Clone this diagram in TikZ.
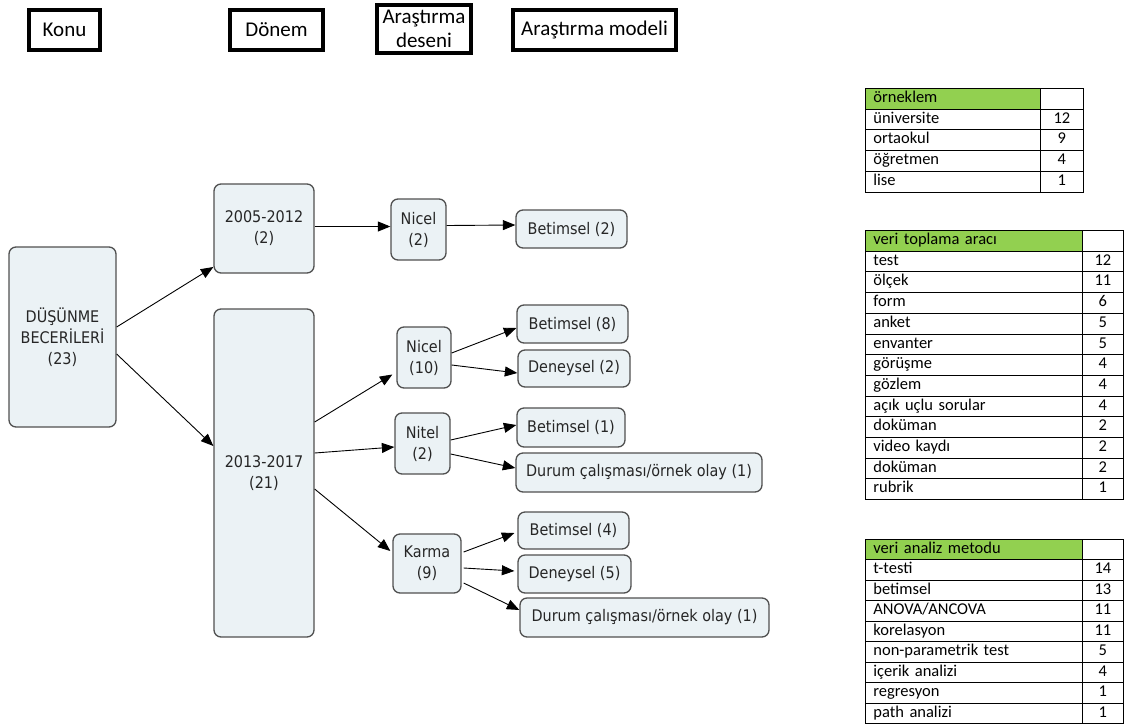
\documentclass[tikz,border=0pt]{standalone}
\usepackage{fontspec}
\setmainfont{Carlito}
\newfontfamily\boxfont[FakeStretch=0.9]{DejaVu Sans}
\usepackage{tikz}
\usetikzlibrary{arrows.meta, calc, positioning}
\definecolor{boxfill}{HTML}{EBF2F5}
\definecolor{boxline}{HTML}{505050}
\definecolor{boxtext}{HTML}{262626}
\definecolor{headgreen}{HTML}{92D050}
\tikzset{
  head/.style={draw, line width=3.5pt, minimum height=40pt, inner sep=0pt, align=center, font=\fontsize{21}{24}\selectfont},
  stage/.style={draw=boxline, fill=boxfill, rounded corners=7pt, line width=1.3pt, inner sep=0pt, align=center, text=boxtext, font=\boxfont\fontsize{16}{21}\selectfont},
  link/.style={-{Triangle[length=12.5pt,width=10pt]}, line width=0.9pt},
  lcell/.style={draw, line width=0.8pt, anchor=north west, minimum height=20.7pt, inner xsep=8pt, inner ysep=0pt, text height=11pt, text depth=3.5pt, align=left, font=\fontsize{16.5}{18}\selectfont},
  vcell/.style={draw, line width=0.8pt, anchor=north west, minimum height=20.7pt, inner sep=0pt, text height=11pt, text depth=3.5pt, align=center, font=\fontsize{16.5}{18}\selectfont}
}
\begin{document}
\begin{tikzpicture}[x=1pt, y=-1pt]
\useasboundingbox (0,0) rectangle (1129,726);

\node[head, minimum width=71pt] (konu) at (64.5,30) {Konu};
\node[head, minimum width=93pt] (donem) at (276.5,30) {Dönem};
\node[head, minimum width=94pt, minimum height=48pt] (desen) at (424,29) {Araştırma\\deseni};
\node[head, minimum width=163pt] (model) at (594.5,30) {Araştırma modeli};

\node[stage, minimum width=107pt, minimum height=180pt] (topic) at (62.5,337) {DÜŞÜNME\\BECERİLERİ\\(23)};
\node[stage, minimum width=100pt, minimum height=89pt] (pa) at (264,228.5) {2005-2012\\(2)};
\node[stage, minimum width=100pt, minimum height=328pt] (pb) at (264,473) {2013-2017\\(21)};
\node[stage, minimum width=55pt, minimum height=61pt] (quanA) at (418.5,229.5) {Nicel\\(2)};
\node[stage, minimum width=111pt, minimum height=38pt] (descA) at (571.5,229) {Betimsel (2)};
\node[stage, minimum width=54pt, minimum height=61pt] (quanB) at (424,357.5) {Nicel\\(10)};
\node[stage, minimum width=111pt, minimum height=38pt] (descB) at (572.5,324) {Betimsel (8)};
\node[stage, minimum width=112pt, minimum height=37pt] (expB) at (574,368.5) {Deneysel (2)};
\node[stage, minimum width=55pt, minimum height=61pt] (qual) at (422.5,443.5) {Nitel\\(2)};
\node[stage, minimum width=108pt, minimum height=39pt] (descC) at (571,427.5) {Betimsel (1)};
\node[stage, minimum width=246pt, minimum height=39pt] (caseC) at (639,472.5) {Durum çalışması/örnek olay (1)};
\node[stage, minimum width=68pt, minimum height=59pt] (mixed) at (427,563.5) {Karma\\(9)};
\node[stage, minimum width=111pt, minimum height=37pt] (descD) at (573.5,530.5) {Betimsel (4)};
\node[stage, minimum width=113pt, minimum height=38pt] (expD) at (574.5,574) {Deneysel (5)};
\node[stage, minimum width=249pt, minimum height=39pt] (caseD) at (644.5,617.5) {Durum çalışması/örnek olay (1)};

\draw[link] ([yshift=10pt]topic.east) -- ([yshift=-38.5pt]pa.west);
\draw[link] ([yshift=-17pt]topic.east) -- ([yshift=27pt]pb.west);
\draw[link] ([yshift=2pt]pa.east) -- ([yshift=3pt]quanA.west);
\draw[link] ([yshift=4pt]quanA.east) -- ([yshift=4pt]descA.west);
\draw[link] ([yshift=51pt]pb.east) -- ([xshift=-4pt, yshift=-17pt]quanB.west);
\draw[link] ([yshift=20pt]pb.east) -- ([yshift=-3.5pt]qual.west);
\draw[link] ([yshift=-16pt]pb.east) -- ([xshift=-2pt, yshift=12.5pt]mixed.west);
\draw[link] ([yshift=4.5pt]quanB.east) -- ([yshift=-4pt]descB.west);
\draw[link] ([yshift=-7.5pt]quanB.east) -- ([yshift=-4.5pt]expB.west);
\draw[link] ([yshift=3.5pt]qual.east) -- ([yshift=2.5pt]descC.west);
\draw[link] ([yshift=-10.5pt]qual.east) -- ([yshift=4.5pt]caseC.west);
\draw[link] ([xshift=2pt, yshift=11.5pt]mixed.east) -- ([xshift=-3pt, yshift=-2.5pt]descD.west);
\draw[link] ([xshift=2pt, yshift=-4.5pt]mixed.east) -- ([xshift=-3pt, yshift=3pt]expD.west);
\draw[link] ([xshift=2pt, yshift=-19.5pt]mixed.east) -- ([yshift=7.5pt]caseD.west);

\node[lcell, text width=159pt, fill=headgreen] (sample0) at (865,88) {örneklem};
\node[vcell, minimum width=43pt] (samplev0) at (1040,88) {};
\foreach \lab/\val [count=\i] in {üniversite/12, ortaokul/9, öğretmen/4, lise/1} {
  \node[lcell, text width=159pt] (sample\i) at (865,{88+20.7*\i}) {\lab};
  \node[vcell, minimum width=43pt] (samplev\i) at (1040,{88+20.7*\i}) {\val};
}

\node[lcell, text width=201pt, fill=headgreen] (tool0) at (865,230) {veri toplama aracı};
\node[vcell, minimum width=41pt] (toolv0) at (1082,230) {};
\foreach \lab/\val [count=\i] in {test/12, ölçek/11, form/6, anket/5, envanter/5, görüşme/4, gözlem/4, açık uçlu sorular/4, doküman/2, video kaydı/2, doküman/2, rubrik/1} {
  \node[lcell, text width=201pt] (tool\i) at (865,{230+20.7*\i}) {\lab};
  \node[vcell, minimum width=41pt] (toolv\i) at (1082,{230+20.7*\i}) {\val};
}

\node[lcell, text width=201pt, fill=headgreen] (method0) at (865,538.5) {veri analiz metodu};
\node[vcell, minimum width=41pt] (methodv0) at (1082,538.5) {};
\foreach \lab/\val [count=\i] in {t-testi/14, betimsel/13, {ANOVA/ANCOVA}/11, korelasyon/11, non-parametrik test/5, içerik analizi/4, regresyon/1, path analizi/1} {
  \node[lcell, text width=201pt] (method\i) at (865,{538.5+20.5*\i}) {\lab};
  \node[vcell, minimum width=41pt] (methodv\i) at (1082,{538.5+20.5*\i}) {\val};
}
\end{tikzpicture}
\end{document}
